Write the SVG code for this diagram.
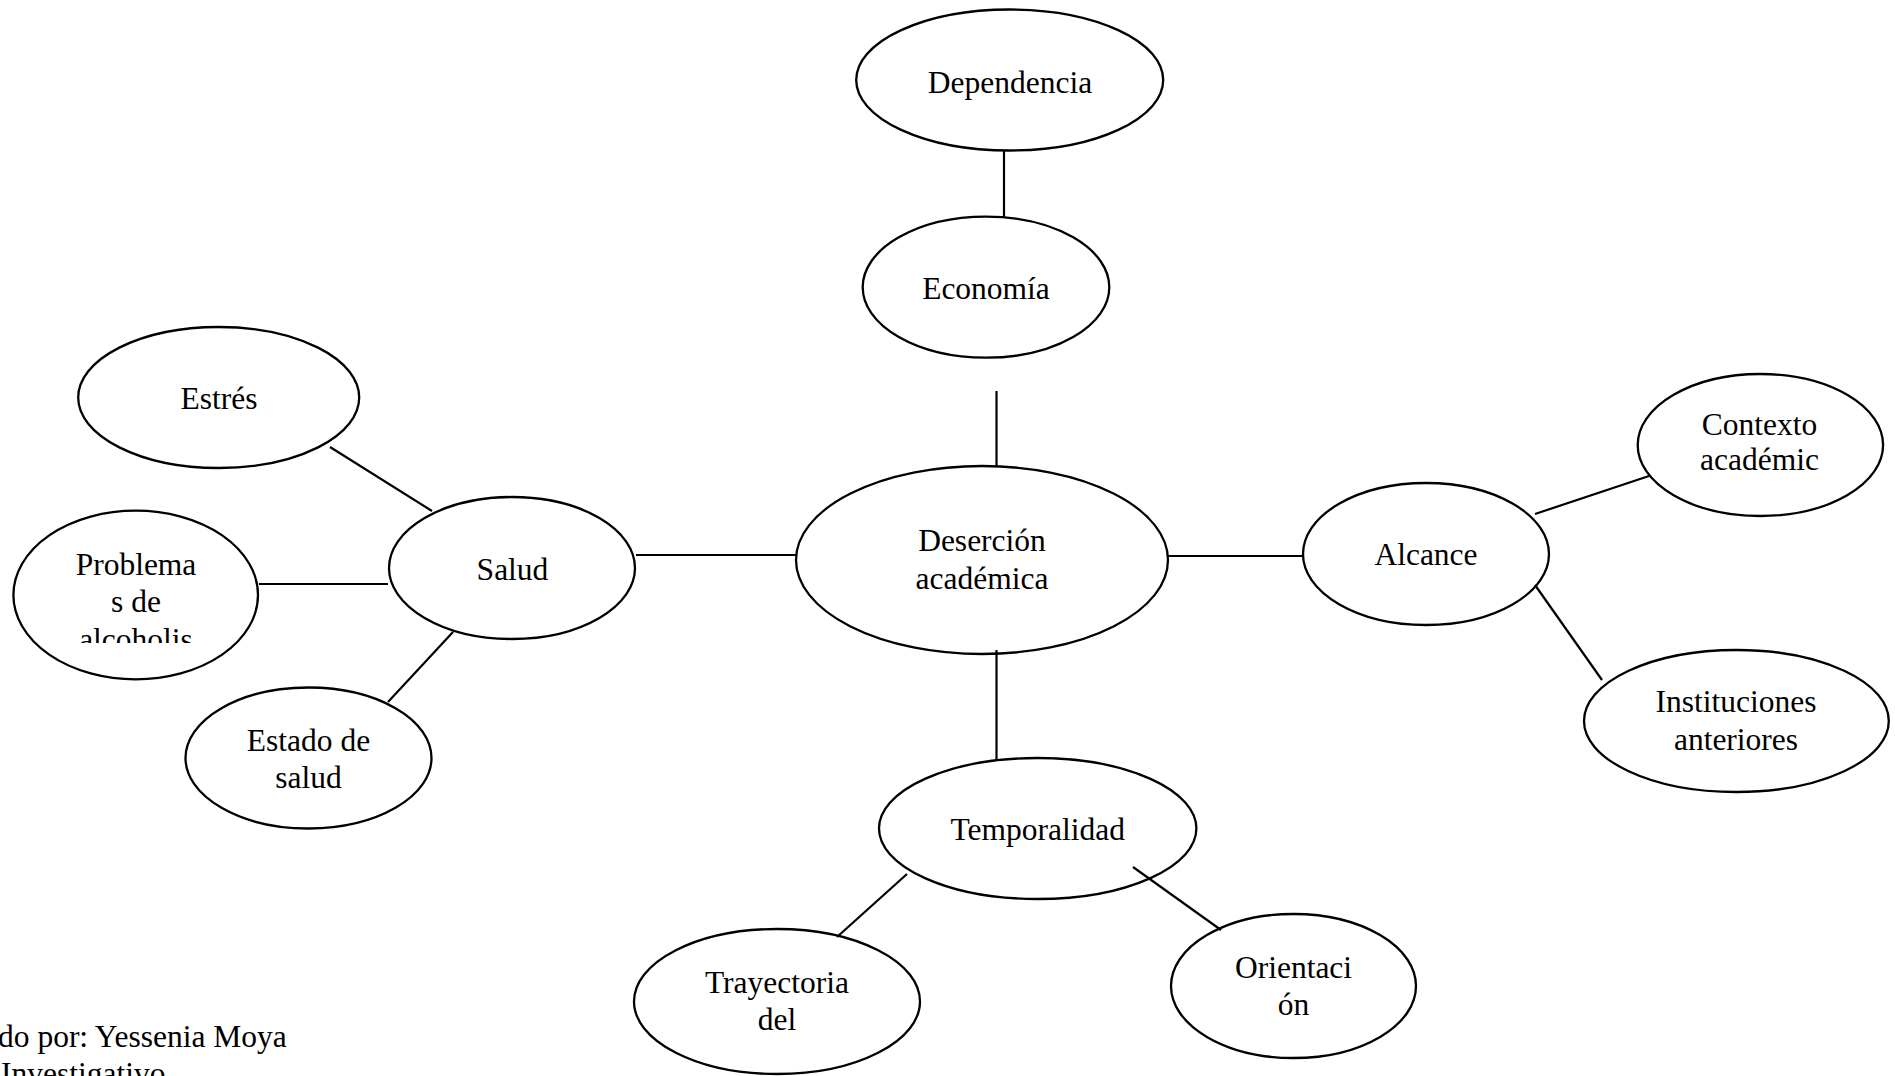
<svg xmlns="http://www.w3.org/2000/svg" width="1895" height="1076" viewBox="0 0 1895 1076">
<style>
.n ellipse{fill:#fff;stroke:#000;stroke-width:2.3}
.c line{stroke:#000;stroke-width:2.2}
text{font-family:"Liberation Serif","Times New Roman",serif;font-size:31.5px;fill:#000}
.m{text-anchor:middle}
</style>
<defs>
<clipPath id="clipProb"><rect x="0" y="520" width="300" height="123"/></clipPath>
</defs>
<rect width="1895" height="1076" fill="#fff"/>
<g id="dependencia" class="n">
<ellipse cx="1009.7" cy="80" rx="153.5" ry="70.5"/>
<text class="m" x="1010" y="92.5">Dependencia</text>
</g>
<g id="economia" class="n">
<ellipse cx="986" cy="287.2" rx="123.3" ry="70.5"/>
<text class="m" x="986" y="299">Economía</text>
</g>
<g id="desercion" class="n">
<ellipse cx="982" cy="560" rx="186" ry="94"/>
<text class="m" x="982" y="551">Deserción</text>
<text class="m" x="982" y="589">académica</text>
</g>
<g id="salud" class="n">
<ellipse cx="512" cy="568" rx="123" ry="71"/>
<text class="m" x="512.5" y="580">Salud</text>
</g>
<g id="estres" class="n">
<ellipse cx="218.7" cy="397.5" rx="140.5" ry="70.5"/>
<text class="m" x="219" y="409">Estrés</text>
</g>
<g id="problemas" class="n">
<ellipse cx="135.7" cy="595" rx="122.3" ry="84.3"/>
<text class="m" x="136" y="575">Problema</text>
<text class="m" x="136" y="612">s de</text>
<text class="m" x="136" y="650" clip-path="url(#clipProb)">alcoholis</text>
</g>
<g id="estado" class="n">
<ellipse cx="308.5" cy="758" rx="123" ry="70.5"/>
<text class="m" x="308.5" y="750.5">Estado de</text>
<text class="m" x="308.5" y="787.5">salud</text>
</g>
<g id="alcance" class="n">
<ellipse cx="1426" cy="554" rx="123" ry="71"/>
<text class="m" x="1426" y="565">Alcance</text>
</g>
<g id="contexto" class="n">
<ellipse cx="1760.4" cy="445" rx="122.7" ry="71"/>
<text class="m" x="1759.5" y="435">Contexto</text>
<text class="m" x="1759.5" y="470">académic</text>
</g>
<g id="instituciones" class="n">
<ellipse cx="1736.4" cy="721" rx="152.4" ry="71"/>
<text class="m" x="1736" y="711.5">Instituciones</text>
<text class="m" x="1736" y="750">anteriores</text>
</g>
<g id="temporalidad" class="n">
<ellipse cx="1037.7" cy="828.5" rx="158.7" ry="70.5"/>
<text class="m" x="1037.7" y="840">Temporalidad</text>
</g>
<g id="trayectoria" class="n">
<ellipse cx="777" cy="1001.5" rx="143" ry="72.5"/>
<text class="m" x="777" y="993">Trayectoria</text>
<text class="m" x="777" y="1030">del</text>
</g>
<g id="orientacion" class="n">
<ellipse cx="1293.5" cy="986" rx="122.5" ry="72"/>
<text class="m" x="1293.5" y="978">Orientaci</text>
<text class="m" x="1293.5" y="1015">ón</text>
</g>
<g id="connectors" class="c">
<line x1="1004" y1="151" x2="1004" y2="217"/>
<line x1="996.5" y1="391" x2="996.5" y2="466"/>
<line x1="636" y1="555" x2="796" y2="555"/>
<line x1="1168" y1="556" x2="1303" y2="556"/>
<line x1="996.5" y1="650" x2="996.5" y2="760"/>
<line x1="330" y1="447" x2="432" y2="511"/>
<line x1="259" y1="584" x2="388" y2="584"/>
<line x1="453" y1="632" x2="388" y2="702"/>
<line x1="1535" y1="514" x2="1649" y2="476"/>
<line x1="1535" y1="585" x2="1602" y2="680"/>
<line x1="907" y1="874" x2="837" y2="937"/>
<line x1="1133" y1="867" x2="1221" y2="930"/>
</g>
<g id="footer">
<text x="-2" y="1047">do por: Yessenia Moya</text>
<text x="1" y="1084">Investigativo</text>
</g>
</svg>
